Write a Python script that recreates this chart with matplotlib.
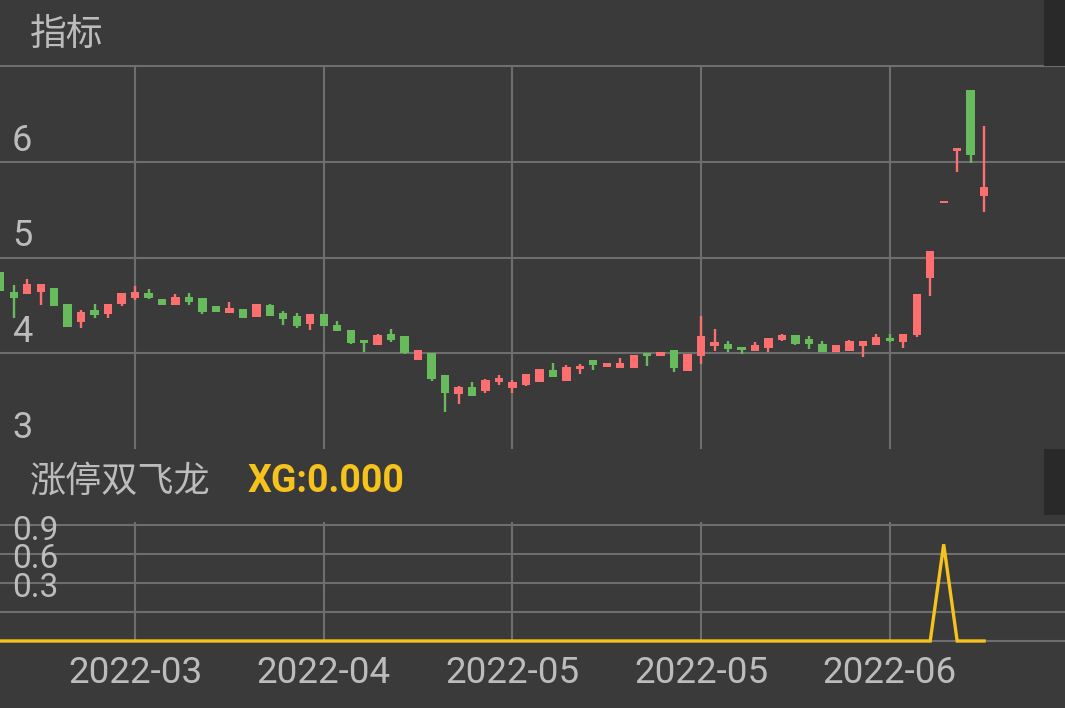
import matplotlib
matplotlib.use("Agg")
import matplotlib.pyplot as plt
import matplotlib.transforms as mtransforms
from matplotlib.patches import Rectangle

# ---------------- data ----------------
opens = [4.85, 4.635, 4.615, 4.639, 4.684, 4.518, 4.326, 4.455, 4.413, 4.518,
         4.58, 4.628, 4.57, 4.507, 4.587, 4.576, 4.49, 4.424, 4.465, 4.378,
         4.5, 4.424, 4.385, 4.309, 4.413, 4.299, 4.247, 4.135, 4.09, 4.198,
         4.177, 3.934, 4.007, 3.768, 3.57, 3.649, 3.604, 3.698, 3.639, 3.667,
         3.701, 3.83, 3.708, 3.84, 3.927, 3.858, 3.847, 3.847, 4.007, 3.972,
         4.038, 3.816, 3.972, 4.076, 4.101, 4.066, 4.024, 4.059, 4.142, 4.195,
         4.153, 4.101, 4.014, 4.024, 4.076, 4.09, 4.163, 4.118, 4.188, 4.784,
         5.566, 6.11, 6.75, 5.64]
highs = [4.85, 4.708, 4.778, 4.726, 4.684, 4.518, 4.455, 4.51, 4.518, 4.632,
         4.698, 4.674, 4.57, 4.615, 4.632, 4.576, 4.49, 4.531, 4.465, 4.518,
         4.518, 4.44, 4.424, 4.406, 4.413, 4.333, 4.247, 4.142, 4.205, 4.25,
         4.177, 4.038, 4.007, 3.768, 3.66, 3.695, 3.736, 3.777, 3.719, 3.781,
         3.84, 3.903, 3.875, 3.892, 3.927, 3.899, 3.951, 3.979, 4.007, 4.014,
         4.038, 3.997, 4.385, 4.25, 4.125, 4.066, 4.118, 4.16, 4.205, 4.195,
         4.18, 4.125, 4.09, 4.135, 4.128, 4.205, 4.205, 4.198, 4.615, 5.073,
         5.566, 6.14, 6.75, 6.375]
lows = [4.65, 4.365, 4.615, 4.50, 4.493, 4.274, 4.264, 4.372, 4.372, 4.493,
        4.559, 4.57, 4.5, 4.507, 4.5, 4.413, 4.43, 4.424, 4.372, 4.378,
        4.385, 4.292, 4.264, 4.24, 4.284, 4.232, 4.094, 4.014, 4.09, 4.118,
        3.99, 3.934, 3.711, 3.382, 3.466, 3.555, 3.586, 3.673, 3.58, 3.656,
        3.701, 3.753, 3.708, 3.788, 3.83, 3.858, 3.847, 3.847, 3.868, 3.972,
        3.805, 3.816, 3.885, 4.024, 4.014, 3.997, 4.024, 4.014, 4.125, 4.083,
        4.042, 4.014, 4.014, 4.024, 3.962, 4.09, 4.118, 4.059, 4.17, 4.597,
        5.566, 5.896, 5.99, 5.47]
closes = [4.65, 4.573, 4.726, 4.726, 4.493, 4.274, 4.43, 4.403, 4.518, 4.632,
          4.639, 4.58, 4.5, 4.587, 4.535, 4.43, 4.43, 4.476, 4.372, 4.518,
          4.385, 4.354, 4.284, 4.406, 4.284, 4.232, 4.111, 4.111, 4.188, 4.135,
          4.007, 4.038, 3.726, 3.58, 3.649, 3.555, 3.719, 3.74, 3.701, 3.781,
          3.84, 3.753, 3.858, 3.868, 3.882, 3.899, 3.903, 3.979, 3.972, 4.014,
          3.851, 3.997, 4.18, 4.118, 4.049, 4.038, 4.083, 4.16, 4.195, 4.101,
          4.101, 4.014, 4.09, 4.125, 4.128, 4.17, 4.125, 4.198, 4.615, 5.073,
          5.566, 6.14, 6.07, 5.74]
xg = [0.0] * 70 + [1.0, 0.0, 0.0, 0.0]

date_tick_idx = [10, 24, 38, 52, 66]
date_labels = ["2022-03", "2022-04", "2022-05", "2022-05", "2022-06"]
price_ticks = [3, 4, 5, 6]
xg_tick_labels = ["0.9", "0.6", "0.3"]

# ---------------- style ----------------
BG = "#3a3a3a"
GRID = "#6e6e6e"
TXT = "#bcbcbc"
RED = "#ff6f6f"
GREEN = "#68bb5d"
YEL = "#f6c21c"
DARK = "#292929"

W, H = 1065, 708
fig = plt.figure(figsize=(W / 100, H / 100), dpi=100, facecolor=BG)


def fy(py):
    return 1 - py / H


n = len(closes)
xl = (-0.02, 79.0)

# header strips (dark right blocks)
for y0, y1 in [(0, 66), (449, 515)]:
    fig.patches.append(Rectangle((1044 / W, fy(y1)), 21 / W, (y1 - y0) / H,
                                 transform=fig.transFigure, facecolor=DARK,
                                 edgecolor="none", zorder=0))

fig.text(30 / W, fy(34), "指标", family=["Noto Sans CJK SC", "DejaVu Sans"],
         fontsize=26.5, color=TXT, va="center", ha="left")
fig.text(30 / W, fy(482), "涨停双飞龙", family=["Noto Sans CJK SC", "DejaVu Sans"],
         fontsize=26, color=TXT, va="center", ha="left")
fig.text(248 / W, fy(482), "XG:%.3f" % xg[-1], family=["Roboto", "DejaVu Sans"],
         fontsize=27, fontweight="bold", color=YEL, va="center", ha="left")

# ---------------- main candle axes ----------------
ax = fig.add_axes([0, fy(449), 1, (449 - 66) / H])
ax.set_facecolor(BG)
ax.set_xlim(*xl)
ax.set_ylim(3.0, 7.0)
for s in ax.spines.values():
    s.set_visible(False)
ax.set_xticks([])
ax.set_yticks([])

for v in [4, 5, 6, 7]:
    ax.axhline(v, color=GRID, lw=1.5, zorder=1, clip_on=False)
for i in date_tick_idx:
    ax.axvline(i, color=GRID, lw=1.5, zorder=1)

for p in price_ticks:
    ax.text(12 / W, p + 0.22, str(p), transform=mtransforms.blended_transform_factory(
        fig.transFigure, ax.transData), family=["Roboto", "DejaVu Sans"],
        fontsize=26, color=TXT, va="center", ha="left", zorder=5)

idx = list(range(n))
cols = [RED if c >= o else GREEN for o, c in zip(opens, closes)]
ax.vlines(idx, lows, highs, colors=cols, lw=1.7, zorder=3)
bottoms = [min(o, c) for o, c in zip(opens, closes)]
heights = [max(abs(c - o), 0.025) for o, c in zip(opens, closes)]
ax.bar(idx, heights, bottom=bottoms, width=0.62, color=cols, edgecolor="none",
       zorder=4)

# ---------------- XG indicator axes ----------------
bx = fig.add_axes([0, fy(645), 1, (645 - 520) / H])
bx.set_facecolor(BG)
bx.set_xlim(*xl)
bx.set_ylim(-0.0414, 1.2517)
for s in bx.spines.values():
    s.set_visible(False)
bx.set_xticks([])
bx.set_yticks([])
for v in [0, 0.3, 0.6, 0.9, 1.2]:
    bx.axhline(v, color=GRID, lw=1.5, zorder=1)
for i in date_tick_idx:
    bx.vlines(i, 0, 1.23, color=GRID, lw=1.5, zorder=1)

tr = mtransforms.blended_transform_factory(fig.transFigure, bx.transData)
for lab, yv in zip(xg_tick_labels, [1.135, 0.85, 0.55]):
    bx.text(12 / W, yv, lab, transform=tr, family=["Roboto", "DejaVu Sans"],
            fontsize=24, color=TXT, va="center", ha="left", zorder=5)

bx.plot(idx, xg, color=YEL, lw=2.4, zorder=3, solid_joinstyle="miter")

trd = mtransforms.blended_transform_factory(bx.transData, fig.transFigure)
for i, lab in zip(date_tick_idx, date_labels):
    bx.text(i, fy(673), lab, transform=trd, family=["Roboto", "DejaVu Sans"],
            fontsize=26.5, color=TXT, va="center", ha="center", clip_on=False)

fig.savefig("out.png", dpi=100, facecolor=BG)
